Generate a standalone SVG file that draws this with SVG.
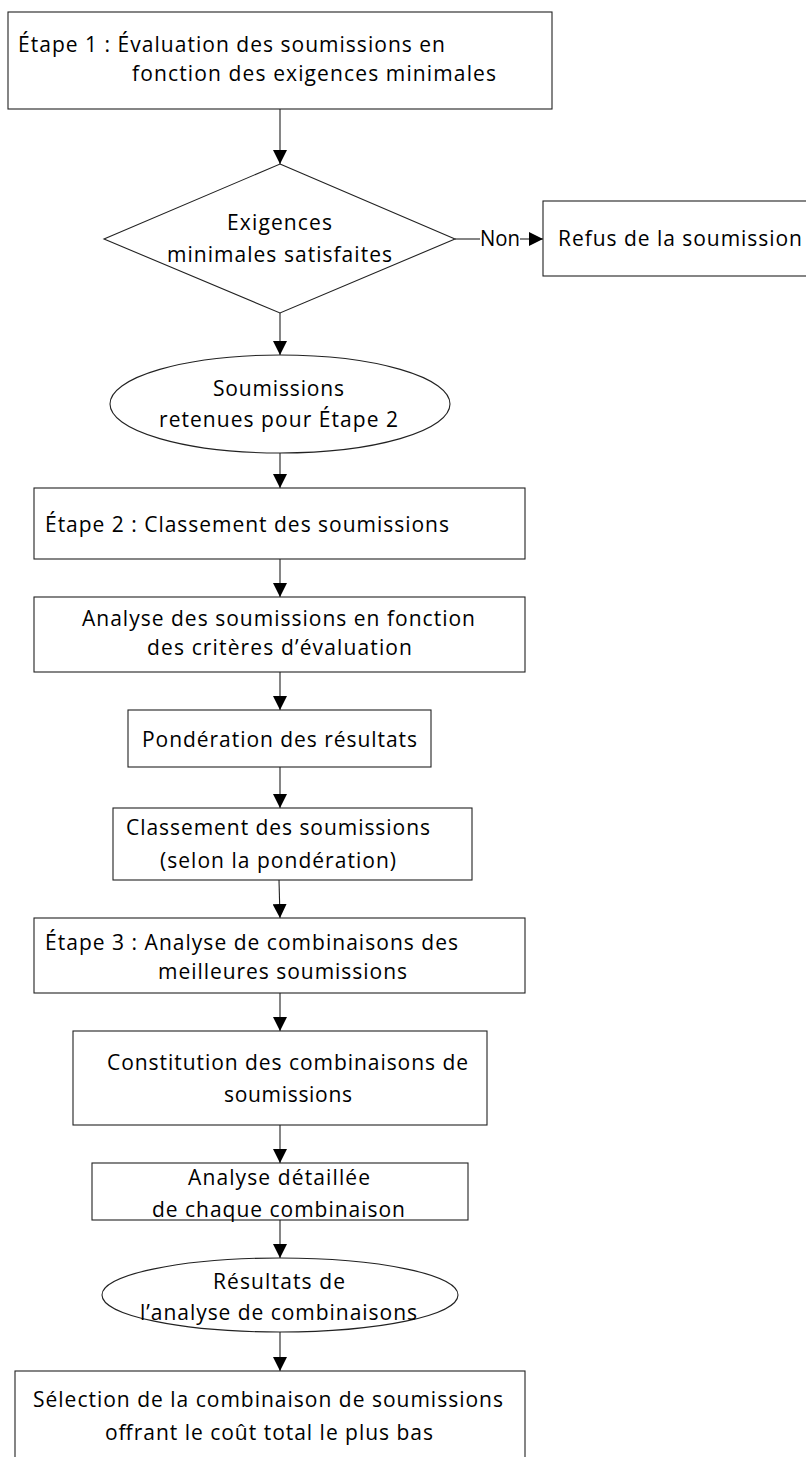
<svg xmlns="http://www.w3.org/2000/svg" width="806" height="1457" viewBox="0 0 806 1457">
<defs>
<marker id="ah" markerUnits="userSpaceOnUse" markerWidth="14" markerHeight="14" viewBox="0 0 13 13" refX="13" refY="6.5" orient="auto">
<path d="M0,0 L13,6.5 L0,13 z" fill="#000"/>
</marker>
<style>
.n{fill:#fff;stroke:#222;stroke-width:1.1}
.t{font-family:"Open Sans","Noto Sans","Liberation Sans",sans-serif;font-size:21px;fill:#000}
.c{stroke:#222;stroke-width:1.1;fill:none}
.a{marker-end:url(#ah)}
</style>
</defs>
<g id="connectors">
<line class="c a" x1="280" y1="109" x2="280" y2="164"/>
<line class="c" x1="455" y1="239" x2="480" y2="239"/>
<line class="c a" x1="520" y1="239" x2="543" y2="239"/>
<line class="c a" x1="280" y1="313" x2="280" y2="355"/>
<line class="c a" x1="280" y1="453" x2="280" y2="488"/>
<line class="c a" x1="280" y1="559" x2="280" y2="597"/>
<line class="c a" x1="280" y1="672" x2="280" y2="710"/>
<line class="c a" x1="280" y1="767" x2="280" y2="808"/>
<line class="c a" x1="279" y1="880" x2="280" y2="918"/>
<line class="c a" x1="280" y1="993" x2="280" y2="1031"/>
<line class="c a" x1="280" y1="1125" x2="280" y2="1163"/>
<line class="c a" x1="280" y1="1220" x2="280" y2="1258"/>
<line class="c a" x1="280" y1="1332" x2="280" y2="1371"/>
<text class="t" x="480" y="246" textLength="40" lengthAdjust="spacingAndGlyphs">Non</text>
</g>
<g id="etape1">
<rect class="n" x="8" y="12" width="544" height="97"/>
<text class="t" x="18" y="52" textLength="427">Étape 1 : Évaluation des soumissions en</text>
<text class="t" x="132" y="81" textLength="364">fonction des exigences minimales</text>
</g>
<g id="decision">
<polygon class="n" points="280,164 455,239 280,313 104,239"/>
<text class="t" x="227" y="230" textLength="105">Exigences</text>
<text class="t" x="167" y="262" textLength="225">minimales satisfaites</text>
</g>
<g id="refus">
<rect class="n" x="543" y="201" width="280" height="75"/>
<text class="t" x="558" y="246" textLength="244">Refus de la soumission</text>
</g>
<g id="retenues">
<ellipse class="n" cx="280" cy="404" rx="170" ry="49"/>
<text class="t" x="213" y="396" textLength="131">Soumissions</text>
<text class="t" x="159" y="427" textLength="239">retenues pour Étape 2</text>
</g>
<g id="etape2">
<rect class="n" x="34" y="488" width="491" height="71"/>
<text class="t" x="45" y="532" textLength="404">Étape 2 : Classement des soumissions</text>
</g>
<g id="analyse">
<rect class="n" x="34" y="597" width="491" height="75"/>
<text class="t" x="82" y="626" textLength="393">Analyse des soumissions en fonction</text>
<text class="t" x="147" y="655" textLength="265">des critères d’évaluation</text>
</g>
<g id="ponderation">
<rect class="n" x="128" y="710" width="303" height="57"/>
<text class="t" x="142" y="747" textLength="275">Pondération des résultats</text>
</g>
<g id="classement">
<rect class="n" x="113" y="808" width="359" height="72"/>
<text class="t" x="126" y="835" textLength="304">Classement des soumissions</text>
<text class="t" x="160" y="868" textLength="236">(selon la pondération)</text>
</g>
<g id="etape3">
<rect class="n" x="34" y="918" width="491" height="75"/>
<text class="t" x="45" y="950" textLength="413">Étape 3 : Analyse de combinaisons des</text>
<text class="t" x="158" y="979" textLength="249">meilleures soumissions</text>
</g>
<g id="constitution">
<rect class="n" x="73" y="1031" width="414" height="94"/>
<text class="t" x="107" y="1070" textLength="361">Constitution des combinaisons de</text>
<text class="t" x="224" y="1102" textLength="128">soumissions</text>
</g>
<g id="detaillee">
<rect class="n" x="92" y="1163" width="376" height="57"/>
<text class="t" x="188" y="1185" textLength="182">Analyse détaillée</text>
<text class="t" x="152" y="1217" textLength="253">de chaque combinaison</text>
</g>
<g id="resultats">
<ellipse class="n" cx="280" cy="1295" rx="178" ry="37"/>
<text class="t" x="213" y="1289" textLength="132">Résultats de</text>
<text class="t" x="140" y="1320" textLength="277">l’analyse de combinaisons</text>
</g>
<g id="selection">
<rect class="n" x="15" y="1371" width="510" height="100"/>
<text class="t" x="33" y="1407" textLength="470">Sélection de la combinaison de soumissions</text>
<text class="t" x="105" y="1440" textLength="328">offrant le coût total le plus bas</text>
</g>
</svg>
